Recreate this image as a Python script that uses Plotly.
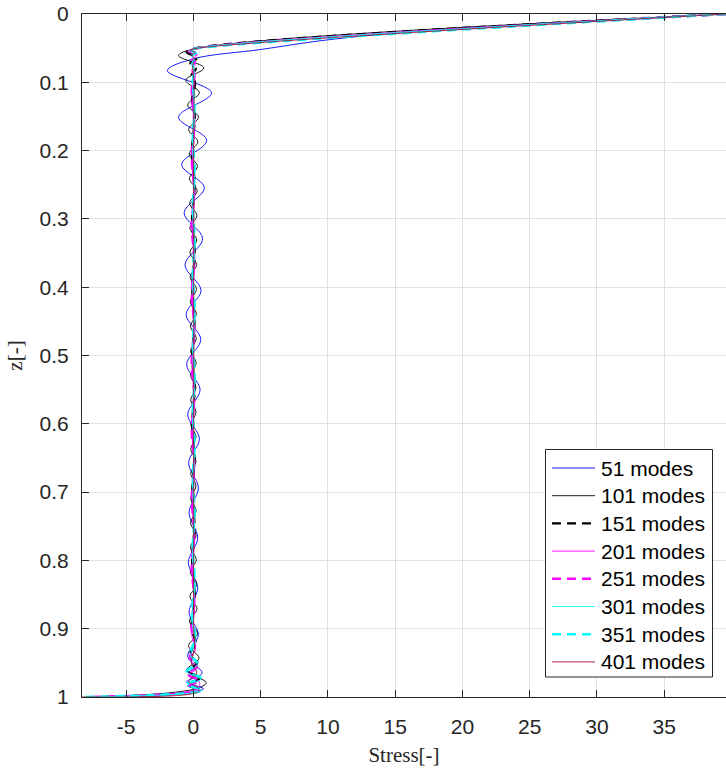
import plotly.graph_objects as go

# ---------------- data ----------------
x_ticks = [-5, 0, 5, 10, 15, 20, 25, 30, 35]
y_ticks = [0, 0.1, 0.2, 0.3, 0.4, 0.5, 0.6, 0.7, 0.8, 0.9, 1]
y_tick_text = ["0", "0.1", "0.2", "0.3", "0.4", "0.5", "0.6", "0.7", "0.8", "0.9", "1"]

series_names = ["51 modes", "101 modes", "151 modes", "201 modes",
                "251 modes", "301 modes", "351 modes", "401 modes"]

z_51 = [0.0, 0.010, 0.019, 0.028, 0.039, 0.052, 0.0657, 0.083, 0.1155, 0.151,
        0.185, 0.2205, 0.2545, 0.291, 0.329, 0.367, 0.405, 0.440, 0.4765, 0.513,
        0.550, 0.5865, 0.622, 0.657, 0.694, 0.730, 0.767, 0.803, 0.840, 0.8765,
        0.9087, 0.9408, 0.965, 0.978, 0.988, 1.0]
s_51 = [39.3, 30.0, 22.0, 15.0, 9.5, 5.0, 0.0, -1.93, 1.35, -1.10,
        0.99, -0.87, 0.82, -0.69, 0.69, -0.62, 0.57, -0.54, 0.55, -0.50,
        0.50, -0.42, 0.45, -0.35, 0.37, -0.32, 0.32, -0.37, 0.32, -0.32,
        0.37, -0.42, 0.65, -0.50, 0.75, -4.8]

z_101 = [0.0, 0.051,
         0.061, 0.079, 0.097, 0.115, 0.133, 0.151, 0.169, 0.187, 0.205, 0.223,
         0.241, 0.259, 0.277, 0.295, 0.313, 0.331, 0.349, 0.367, 0.385, 0.403,
         0.421, 0.439, 0.457, 0.475, 0.493, 0.511, 0.529, 0.547, 0.565, 0.583,
         0.601, 0.619, 0.637, 0.655, 0.673, 0.691, 0.709, 0.727, 0.745, 0.763,
         0.781, 0.799, 0.817, 0.835, 0.853, 0.871, 0.889, 0.907, 0.925, 0.943,
         0.961, 0.979,
         0.988, 1.0]
s_101 = [39.6, 0.1,
         -1.10, 0.78, -0.57, 0.45, -0.42, 0.38, -0.35, 0.33, -0.31, 0.30,
         -0.29, 0.28, -0.27, 0.26, -0.26, 0.25, -0.25, 0.24, -0.24, 0.23,
         -0.23, 0.22, -0.22, 0.22, -0.21, 0.21, -0.21, 0.20, -0.20, 0.20,
         -0.20, 0.20, -0.20, 0.20, -0.20, 0.20, -0.20, 0.21, -0.21, 0.21,
         -0.22, 0.22, -0.23, 0.24, -0.25, 0.27, -0.29, 0.32, -0.36, 0.42,
         -0.50, 0.95,
         0.15, -6.6]

z_151 = [0.0, 0.051, 0.056, 0.064, 0.072, 0.080, 0.090, 0.100, 0.125, 0.15,
         0.2, 0.25, 0.3, 0.35, 0.4, 0.45, 0.5, 0.55, 0.6, 0.65, 0.7, 0.75,
         0.8, 0.85, 0.9, 0.92, 0.935, 0.95, 0.962, 0.972, 0.982, 0.99, 1.0]
s_151 = [39.6, 0.0, -0.50, 0.30, -0.22, 0.18, -0.14, 0.12, -0.10, 0.10,
         -0.10, 0.09, -0.09, 0.09, -0.08, 0.08, -0.08, 0.08, -0.08, 0.08, -0.08, 0.08,
         -0.09, 0.09, -0.12, 0.15, -0.20, 0.28, -0.38, 0.50, -0.45, 0.55, -7.1]

z_201 = [0.0, 0.051, 0.055, 0.061, 0.067, 0.074, 0.082, 0.095, 0.12, 0.17,
         0.22, 0.27, 0.32, 0.37, 0.42, 0.47, 0.52, 0.57, 0.62, 0.67, 0.72, 0.77,
         0.82, 0.87, 0.91, 0.93, 0.945, 0.958, 0.968, 0.978, 0.987, 1.0]
s_201 = [39.6, 0.0, -0.40, 0.25, -0.18, 0.14, -0.12, 0.10, -0.09, 0.08,
         -0.08, 0.07, -0.07, 0.07, -0.07, 0.07, -0.07, 0.07, -0.07, 0.07, -0.07, 0.07,
         -0.08, 0.09, -0.12, 0.16, -0.22, 0.30, -0.40, 0.45, 0.35, -7.6]

z_251 = [0.0, 0.051, 0.054, 0.059, 0.064, 0.070, 0.077, 0.090, 0.11, 0.16,
         0.21, 0.26, 0.31, 0.36, 0.41, 0.46, 0.51, 0.56, 0.61, 0.66, 0.71, 0.76,
         0.81, 0.86, 0.90, 0.925, 0.942, 0.955, 0.966, 0.976, 0.985, 0.991, 1.0]
s_251 = [39.6, 0.0, -0.35, 0.22, -0.16, 0.12, -0.10, 0.09, -0.12, 0.06,
         -0.12, 0.06, -0.12, 0.06, -0.12, 0.06, -0.12, 0.06, -0.12, 0.06, -0.12, 0.06,
         -0.12, 0.07, -0.14, 0.12, -0.25, 0.25, -0.45, 0.40, -0.35, 0.45, -7.9]

z_301 = [0.0, 0.051, 0.054, 0.058, 0.062, 0.067, 0.073, 0.085, 0.105, 0.14,
         0.19, 0.24, 0.29, 0.34, 0.39, 0.44, 0.49, 0.54, 0.59, 0.64, 0.69, 0.74,
         0.79, 0.84, 0.89, 0.92, 0.94, 0.953, 0.964, 0.974, 0.983, 0.991, 1.0]
s_301 = [39.6, 0.0, -0.30, 0.20, -0.14, 0.10, -0.08, 0.07, -0.05, 0.08,
         -0.05, 0.08, -0.05, 0.08, -0.05, 0.08, -0.05, 0.08, -0.05, 0.08, -0.05, 0.08,
         -0.06, 0.09, -0.10, 0.14, -0.20, 0.30, -0.40, 0.55, -0.45, 0.60, -8.1]

z_351 = [0.0, 0.051, 0.053, 0.057, 0.061, 0.066, 0.072, 0.083, 0.10, 0.13,
         0.18, 0.23, 0.28, 0.33, 0.38, 0.43, 0.48, 0.53, 0.58, 0.63, 0.68, 0.73,
         0.78, 0.83, 0.88, 0.915, 0.937, 0.951, 0.962, 0.972, 0.981, 0.99, 1.0]
s_351 = [39.6, 0.0, -0.28, 0.18, -0.12, 0.09, -0.07, 0.06, -0.06, 0.10,
         -0.04, 0.10, -0.04, 0.10, -0.04, 0.10, -0.04, 0.10, -0.04, 0.10, -0.04, 0.10,
         -0.05, 0.10, -0.10, 0.15, -0.25, 0.30, -0.50, 0.55, -0.50, 0.65, -8.2]

z_401 = [0.0, 0.051, 0.053, 0.056, 0.060, 0.065, 0.075, 0.10, 0.2, 0.3,
         0.4, 0.5, 0.6, 0.7, 0.8, 0.9, 0.93, 0.95, 0.965, 0.977, 0.988, 0.993, 1.0]
s_401 = [39.6, 0.0, -0.25, 0.15, -0.10, 0.07, -0.05, 0.04, 0.02, 0.03,
         0.02, 0.03, 0.02, 0.03, 0.02, 0.03, 0.08, -0.15, 0.25, -0.35, 0.40, 0.30, -8.28]

x_range = [-8.28, 39.6]
y_range = [1.0, 0.0]

# ---------------- styles ----------------
styles = [
    dict(color="#0000ff", width=0.9, dash="solid"),
    dict(color="#000000", width=0.9, dash="solid"),
    dict(color="#000000", width=2.4, dash="9px,6px"),
    dict(color="#ff00ff", width=0.9, dash="solid"),
    dict(color="#ff00ff", width=2.4, dash="9px,6px"),
    dict(color="#00ffff", width=0.9, dash="solid"),
    dict(color="#00ffff", width=2.4, dash="9px,6px"),
    dict(color="#a2142f", width=0.9, dash="solid"),
]

zs = [z_51, z_101, z_151, z_201, z_251, z_301, z_351, z_401]
ss = [s_51, s_101, s_151, s_201, s_251, s_301, s_351, s_401]

W, H = 726, 773
ML, MR, MT, MB = 82, 0, 14, 76
PW, PH = W - ML - MR, H - MT - MB

fig = go.Figure()
for name, z, s, st in zip(series_names, zs, ss, styles):
    assert len(z) == len(s), name
    fig.add_trace(go.Scatter(
        x=s, y=z, mode="lines", name=name, showlegend=False,
        line=dict(color=st["color"], width=st["width"], dash=st["dash"],
                  shape="spline", smoothing=1.0),
    ))

axis_col = "#262626"
grid_col = "#e0e0e0"
sans = "Liberation Sans, Arial, Helvetica, sans-serif"
serif = "Liberation Serif, Times New Roman, serif"
tick_font = dict(family=sans, size=21, color=axis_col)


def px_x(p):
    return (p - ML) / PW


def px_y(p):
    return (H - MB - p) / PH


# ---- legend box drawn in paper coordinates (MATLAB-like legend) ----
leg_left, leg_right, leg_top, leg_bottom = 545.5, 712.5, 449.5, 677.0
row0, row_step = 468.0, 27.7
line_x0, line_x1, text_x = 552.0, 595.0, 599.0

shapes = [dict(type="rect", xref="paper", yref="paper", layer="above",
               x0=px_x(leg_left), x1=px_x(leg_right),
               y0=px_y(leg_bottom), y1=px_y(leg_top),
               line=dict(color=axis_col, width=1), fillcolor="white")]
annotations = []
for i, (name, st) in enumerate(zip(series_names, styles)):
    yc = row0 + i * row_step
    shapes.append(dict(type="line", xref="paper", yref="paper", layer="above",
                       x0=px_x(line_x0), x1=px_x(line_x1),
                       y0=px_y(yc), y1=px_y(yc),
                       line=dict(color=st["color"], width=st["width"], dash=st["dash"])))
    annotations.append(dict(xref="paper", yref="paper", x=px_x(text_x), y=px_y(yc),
                            xanchor="left", yanchor="middle", showarrow=False,
                            text=name, font=dict(family=sans, size=21, color="#000000")))

fig.update_layout(
    width=W, height=H,
    margin=dict(l=ML, r=MR, t=MT, b=MB),
    paper_bgcolor="white", plot_bgcolor="white",
    showlegend=False,
    shapes=shapes, annotations=annotations,
    xaxis=dict(
        range=x_range, tickvals=x_ticks, ticktext=[str(v) for v in x_ticks],
        showgrid=True, gridcolor=grid_col, gridwidth=1,
        zeroline=False, showline=True, linecolor=axis_col, linewidth=1,
        mirror="ticks", ticks="inside", ticklen=7, tickcolor=axis_col,
        tickfont=tick_font, ticklabelstandoff=11,
        title=dict(text="Stress[-]", standoff=10,
                   font=dict(family=serif, size=21, color=axis_col)),
    ),
    yaxis=dict(
        range=y_range, tickvals=y_ticks, ticktext=y_tick_text,
        showgrid=True, gridcolor=grid_col, gridwidth=1,
        zeroline=False, showline=True, linecolor=axis_col, linewidth=1,
        mirror=False, ticks="inside", ticklen=7, tickcolor=axis_col,
        tickfont=tick_font, ticklabelstandoff=8,
        title=dict(text="z[-]", standoff=11,
                   font=dict(family=serif, size=21, color=axis_col)),
    ),
)

fig.write_html("out.html")
